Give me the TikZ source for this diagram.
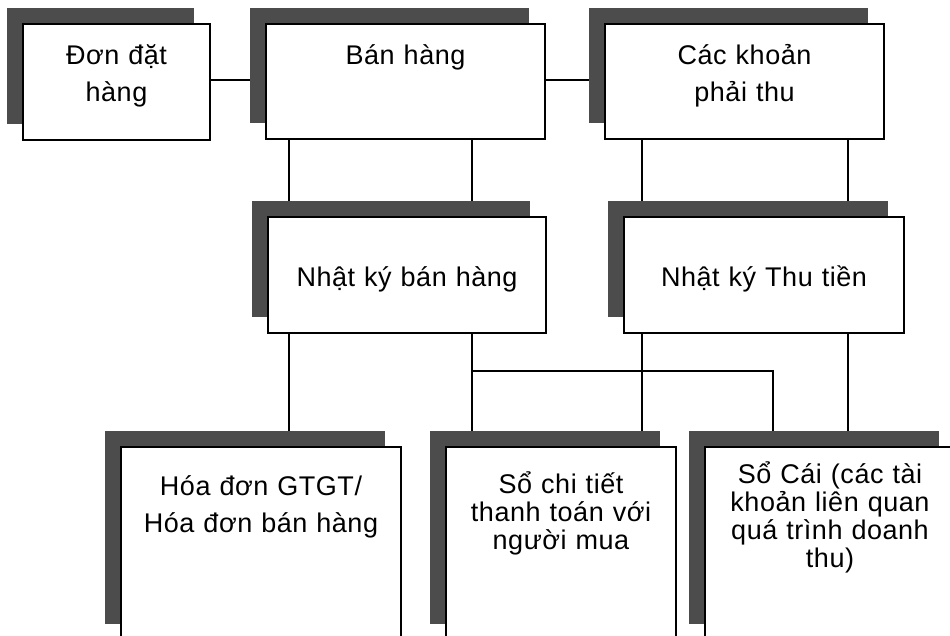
\documentclass[tikz,border=0pt]{standalone}
\usepackage{fontspec}
\setmainfont{Liberation Sans}[LetterSpace=2]
\usetikzlibrary{shadows,backgrounds}
\tikzset{
  box/.style={draw=black, line width=1.6pt, fill=white, inner sep=0pt,
    general shadow={fill=black!70, shadow xshift=-16pt, shadow yshift=16pt}},
  txtwide/.style={font=\fontsize{27}{37}\selectfont, align=center, inner sep=0pt, anchor=base},
  txttight/.style={font=\fontsize{27}{28}\selectfont, align=center, inner sep=0pt, anchor=base},
  heavyconn/.style={line width=1.8pt, draw=black},
  lightconn/.style={line width=1.1pt, draw=black},
}
\begin{document}
\begin{tikzpicture}[x=1pt,y=-1pt]
\useasboundingbox (0,0) rectangle (950,636);
\clip (0,0) rectangle (950,636);
% boxes
\node[box, minimum width=187pt, minimum height=116pt] (b1) at (116.5,82) {};
\node[box, minimum width=279pt, minimum height=115pt] (b2) at (405.5,81.5) {};
\node[box, minimum width=279pt, minimum height=115pt] (b3) at (744.5,81.5) {};
\node[box, minimum width=278pt, minimum height=116pt] (b4) at (407,275) {};
\node[box, minimum width=280pt, minimum height=116pt] (b5) at (764,275) {};
\node[box, minimum width=280pt, minimum height=193pt] (b6) at (261,543.5) {};
\node[box, minimum width=230pt, minimum height=193pt] (b7) at (561,543.5) {};
\node[box, minimum width=250pt, minimum height=193pt] (b8) at (830,543.5) {};
% texts
\node[txtwide, text width=187pt] (t1) at (116.5,65) {Đơn đặt\\hàng};
\node[txtwide, text width=279pt] (t2) at (405.5,65) {Bán hàng};
\node[txtwide, text width=279pt] (t3) at (744.5,65) {Các khoản\\phải thu};
\node[txtwide, text width=278pt] (t4) at (407,287) {Nhật ký bán hàng};
\node[txtwide, text width=280pt] (t5) at (764,287) {Nhật ký Thu tiền};
\node[txtwide, text width=280pt] (t6) at (261,495) {Hóa đơn GTGT/\\Hóa đơn bán hàng};
\node[txttight, text width=230pt] (t7) at (561,493) {Sổ chi tiết\\thanh toán với\\người mua};
\node[txttight, text width=250pt] (t8) at (830,483) {Sổ Cái (các tài\\khoản liên quan\\quá trình doanh\\thu)};
% connector positions
\coordinate (xa) at (289,0);
\coordinate (xb) at (472,0);
\coordinate (xc) at (642,0);
\coordinate (xd) at (848,0);
\coordinate (xe) at (773,0);
\coordinate (yh) at (0,371);
\coordinate (ytop) at (0,80);
\begin{pgfonlayer}{background}
\draw[heavyconn] (b1.east |- ytop) -- (b2.center |- ytop);
\draw[heavyconn] (b2.east |- ytop) -- (b3.center |- ytop);
\draw[heavyconn] (xa |- b2.south) -- (xa |- b4.center);
\draw[heavyconn] (xb |- b2.south) -- (xb |- b4.center);
\draw[heavyconn] (xc |- b3.south) -- (xc |- b5.center);
\draw[heavyconn] (xd |- b3.south) -- (xd |- b5.center);
\draw[lightconn] (xa |- b4.south) -- (xa |- b6.center);
\draw[lightconn] (xb |- b4.south) -- (xb |- b7.center);
\draw[heavyconn] (xb |- yh) -- (xe |- yh) -- (xe |- b8.center);
\draw[lightconn] (xc |- b5.south) -- (xc |- b7.center);
\draw[lightconn] (xd |- b5.south) -- (xd |- b8.center);
\end{pgfonlayer}
\end{tikzpicture}
\end{document}
